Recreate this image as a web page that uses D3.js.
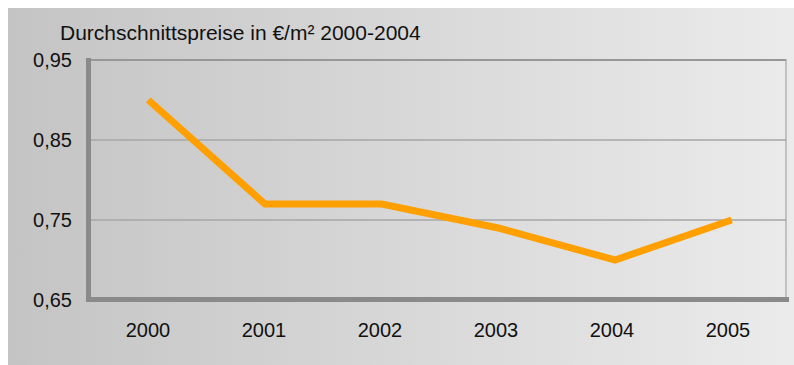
<!DOCTYPE html>
<html>
<head>
<meta charset="utf-8">
<script src="https://cdn.jsdelivr.net/npm/d3@7"></script>
<style>
  html, body { margin: 0; padding: 0; background: #ffffff; }
  svg { display: block; }
  text { font-family: "Liberation Sans", Arial, sans-serif; fill: #111; }
</style>
</head>
<body>
<script>
// Average prices per square metre
const years = ["2000", "2001", "2002", "2003", "2004", "2005"];
const prices = [0.90, 0.77, 0.77, 0.74, 0.70, 0.75];
const yTicks = [0.65, 0.75, 0.85, 0.95];
const title = "Durchschnittspreise in €/m² 2000-2004";

const W = 794, H = 365;
const svg = d3.select("body").append("svg").attr("width", W).attr("height", H);

// background panel with horizontal grey gradient
const defs = svg.append("defs");
const grad = defs.append("linearGradient").attr("id", "bg").attr("x1", 0).attr("x2", 1).attr("y1", 0).attr("y2", 0);
grad.append("stop").attr("offset", 0).attr("stop-color", "#c4c4c4");
grad.append("stop").attr("offset", 1).attr("stop-color", "#ebebeb");
svg.append("rect").attr("x", 8).attr("y", 8).attr("width", W - 8).attr("height", H - 8).attr("fill", "url(#bg)");

const plot = { left: 90, right: 786, top: 60, bottom: 300 };

const x = d3.scaleBand().domain(years).range([plot.left, plot.right + 4]);
const y = d3.scaleLinear().domain([0.65, 0.95]).range([plot.bottom, plot.top]);

// horizontal grid lines
svg.append("g").selectAll("line").data(yTicks.filter(d => d > 0.65 && d < 0.95)).join("line")
  .attr("x1", plot.left).attr("x2", plot.right)
  .attr("y1", d => y(d)).attr("y2", d => y(d))
  .attr("stroke", "#a6a6a6").attr("stroke-width", 1.5);

// plot frame: top edge, right edge, thick left wall and floor
svg.append("line").attr("x1", plot.left).attr("x2", plot.right)
  .attr("y1", y(0.95)).attr("y2", y(0.95)).attr("stroke", "#979797").attr("stroke-width", 2);
svg.append("line").attr("x1", plot.right).attr("x2", plot.right)
  .attr("y1", y(0.95) - 1).attr("y2", plot.bottom).attr("stroke", "#979797").attr("stroke-width", 1);
svg.append("line").attr("x1", plot.left - 1.5).attr("x2", plot.left - 1.5)
  .attr("y1", plot.top - 2).attr("y2", plot.bottom + 2).attr("stroke", "#8a8a8a").attr("stroke-width", 5);
svg.append("line").attr("x1", plot.left - 4).attr("x2", plot.right + 3)
  .attr("y1", plot.bottom - 0.5).attr("y2", plot.bottom - 0.5).attr("stroke", "#8a8a8a").attr("stroke-width", 5);

// y axis labels
const fmt = d => d3.format(".2f")(d).replace(".", ",");
svg.append("g").selectAll("text").data(yTicks).join("text")
  .attr("x", 72).attr("y", d => y(d)).attr("dy", "0.35em")
  .attr("text-anchor", "end").attr("font-size", 20).text(fmt);

// x axis labels
const xl = d3.scaleBand().domain(years).range([plot.left, plot.right]);
svg.append("g").selectAll("text").data(years).join("text")
  .attr("x", d => xl(d) + xl.bandwidth() / 2).attr("y", 330).attr("dy", "0.35em")
  .attr("text-anchor", "middle").attr("font-size", 20).text(d => d);

// title
svg.append("text").attr("x", 60).attr("y", 40).attr("font-size", 21).text(title);

// price line
const line = d3.line().x((d, i) => x(years[i]) + x.bandwidth() / 2).y(d => y(d));
svg.append("path").datum(prices).attr("d", line)
  .attr("fill", "none").attr("stroke", "#ff9f00").attr("stroke-width", 7)
  .attr("stroke-linejoin", "miter");
</script>
</body>
</html>
